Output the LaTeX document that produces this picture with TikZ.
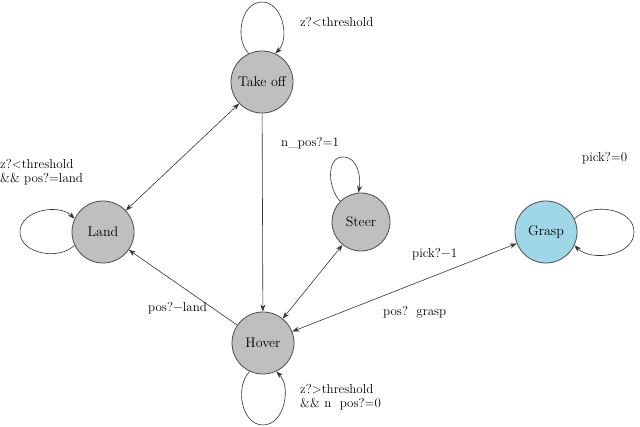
\documentclass[tikz,border=0pt]{standalone}
\usetikzlibrary{arrows.meta}
\begin{document}
\begin{tikzpicture}[x=1pt,y=1pt,
  st/.style={circle,draw=black!70,line width=0.8pt,fill=black!25,minimum size=62pt,inner sep=0pt,font=\fontsize{14}{15}\selectfont},
  ed/.style={-{Stealth[length=7pt,width=5pt]},line width=0.6pt,black!80},
  bd/.style={{Stealth[length=7pt,width=5pt]}-{Stealth[length=7pt,width=5pt]},line width=0.6pt,black!80},
  lb/.style={font=\fontsize{13}{14}\selectfont,align=left,anchor=west,inner sep=0pt}]
\useasboundingbox (0,0) rectangle (640,427);
\node[st] (T) at (262,345) {Take off};
\node[st] (L) at (103,195) {Land};
\node[st,minimum size=58pt] (S) at (361,205) {Steer};
\node[st,fill={rgb,255:red,160;green,215;blue,230}] (G) at (546,195) {Grasp};
\node[st] (H) at (263,84) {Hover};
\draw[bd] (T) -- (L);
\draw[ed] (T) -- (H);
\draw[ed] (H) -- (L);
\draw[bd] (H) -- (S);
\draw[bd] (H) -- (G);
\coordinate (cT) at (262,425);
\coordinate (cL) at (20,195);
\coordinate (cS) at (343,270);
\coordinate (cG) at (634,195);
\coordinate (cH) at (263,2);
\draw[ed] (T.115) to[out=135,in=180] (cT) to[out=0,in=45] (T.65);
\draw[ed] (L.205) to[out=225,in=270] (cL) to[out=90,in=135] (L.155);
\draw[ed] (S.135) to[out=135,in=180] (cS) to[out=0,in=80] (S.95);
\draw[ed] (G.25) to[out=45,in=90] (cG) to[out=270,in=315] (G.335);
\draw[ed] (H.245) to[out=225,in=180] (cH) to[out=0,in=315] (H.295);
\node[lb] (l1) at (300,405) {z?<threshold};
\node[lb] (l2) at (281,284) {n\_pos?=1};
\node[lb] (l3) at (0,255) {z?<threshold\\\&\& pos?=land};
\node[lb] (l4) at (582,269) {pick?=0};
\node[lb] (l5) at (412,173) {pick?−1};
\node[lb] (l6) at (148,119) {pos?−land};
\node[lb] (l7) at (383,115) {pos?\ \ grasp};
\node[lb] (l8) at (300,30) {z?>threshold\\\&\& n\ \ pos?=0};
\end{tikzpicture}
\end{document}
